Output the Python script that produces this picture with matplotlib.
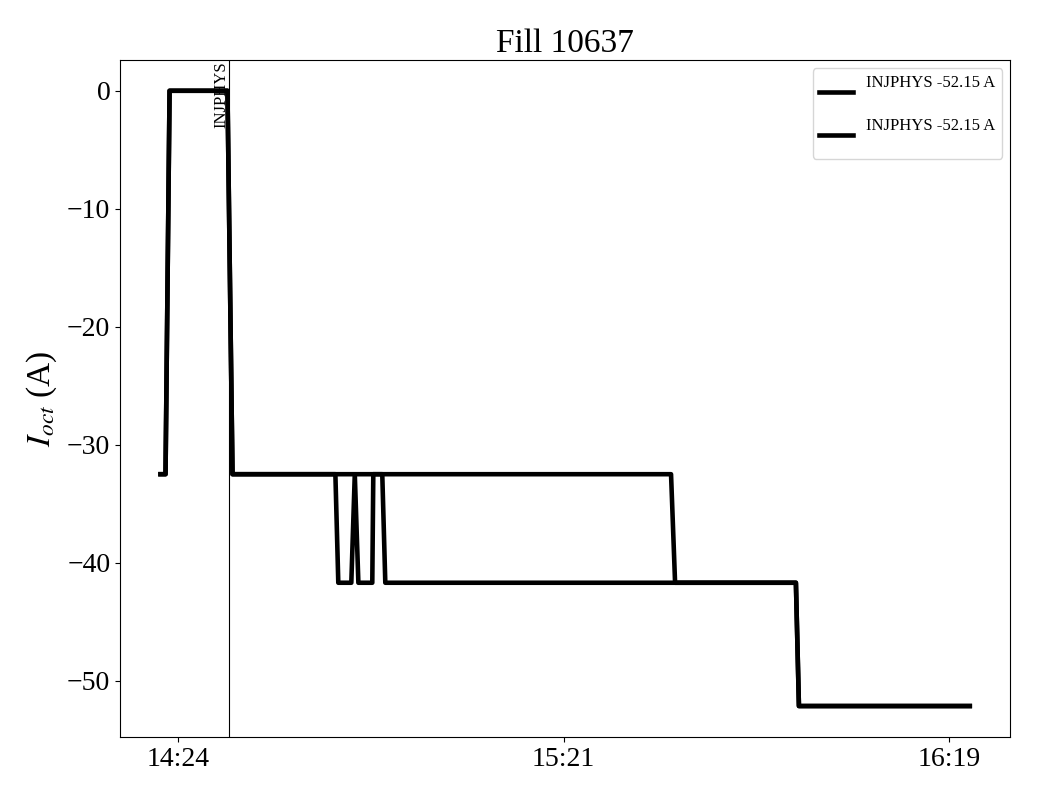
import pandas as pd
import matplotlib
matplotlib.use('Agg')
import matplotlib.pyplot as plt
import matplotlib.dates as mdates

plt.rcParams['font.family'] = ['Liberation Serif', 'DejaVu Serif']
plt.rcParams['mathtext.fontset'] = 'stix'

fill = 10637
day = '2023-06-01 '

# octupole current, series 1 (with the short dips)
t1 = ['14:21:52', '14:22:37', '14:23:13', '14:31:49', '14:32:34', '14:47:51',
      '14:48:17', '14:50:13', '14:50:44', '14:51:16', '14:53:20', '14:53:29',
      '14:54:49', '14:55:16', '15:56:16', '15:56:43', '16:22:06']
i1 = [-32.5, -32.5, 0.0, 0.0, -32.5, -32.5,
      -41.7, -41.7, -32.5, -41.7, -41.7, -32.5,
      -32.5, -41.7, -41.7, -52.15, -52.15]

# series 2
t2 = ['14:21:52', '14:22:37', '14:23:13', '14:31:49', '14:32:34', '15:37:43',
      '15:38:19', '15:56:16', '15:56:43', '16:22:06']
i2 = [-32.5, -32.5, 0.0, 0.0, -32.5, -32.5,
      -41.7, -41.7, -52.15, -52.15]

labels = ['INJPHYS -52.15 A\n', 'INJPHYS -52.15 A\n']
mode_time = '14:32:02'
mode_name = 'INJPHYS'
tick_times = ['14:24:30', '15:21:45', '16:19:00']

x1 = pd.to_datetime([day + t for t in t1])
x2 = pd.to_datetime([day + t for t in t2])
xm = pd.to_datetime(day + mode_time)

fig = plt.figure(figsize=(10.4, 8), dpi=100)
ax = fig.add_axes([0.1154, 0.079, 0.856, 0.846])

ax.plot(x1, i1, color='black', lw=3.3, label=labels[0])
ax.plot(x2, i2, color='black', lw=3.3, label=labels[1])

ax.axvline(xm, color='black', lw=0.8)
ax.text(xm, 2.5, mode_name, rotation=90, ha='right', va='top', fontsize=12)

ax.set_xticks(pd.to_datetime([day + t for t in tick_times]))
ax.xaxis.set_major_formatter(mdates.DateFormatter('%H:%M'))
ax.tick_params(axis='both', labelsize=20)
ax.set_ylabel(r'$I_{oct}$ (A)', fontsize=24, labelpad=6)
ax.set_title(f'Fill {fill}', fontsize=24)
ax.legend(loc='upper right', fontsize=12)

fig.savefig('out.png', dpi=100)
